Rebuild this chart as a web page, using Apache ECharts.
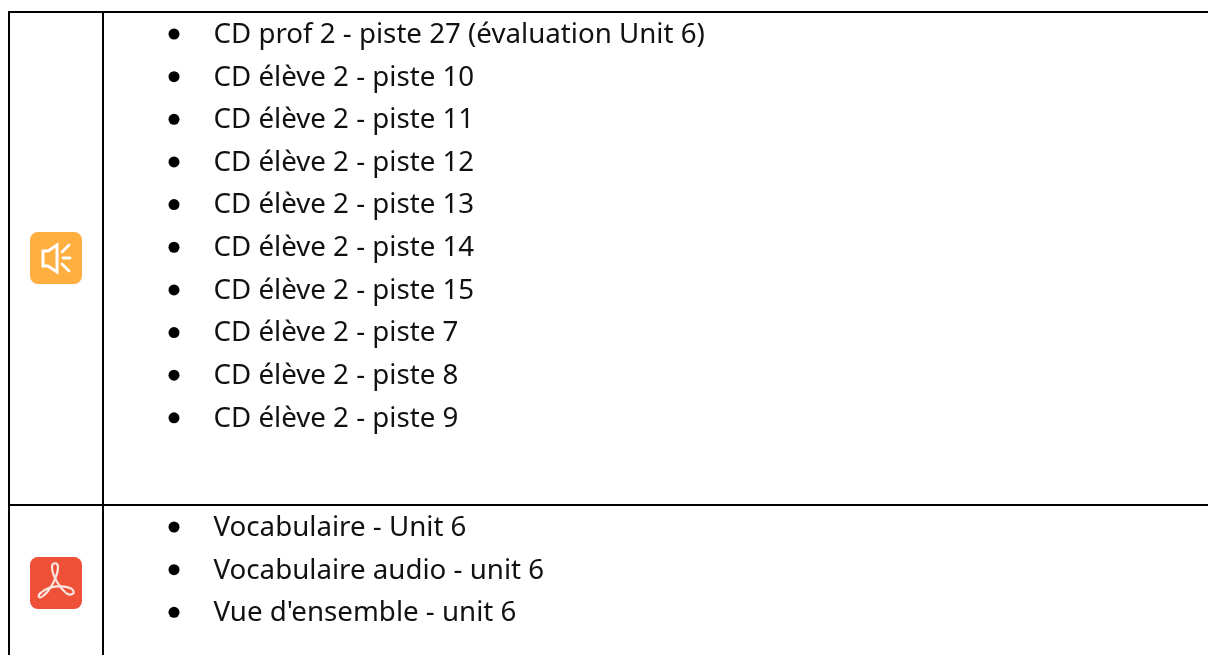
<!DOCTYPE html>
<html>
<head>
<meta charset="utf-8">
<style>html,body{margin:0;padding:0;background:#fff}#c{width:1208px;height:655px}</style>
<script src="https://cdn.jsdelivr.net/npm/echarts@6/dist/echarts.min.js"></script>
</head>
<body>
<div id="c"></div>
<script>
const audioItems = [
  "CD prof 2 - piste 27 (évaluation Unit 6)",
  "CD élève 2 - piste 10",
  "CD élève 2 - piste 11",
  "CD élève 2 - piste 12",
  "CD élève 2 - piste 13",
  "CD élève 2 - piste 14",
  "CD élève 2 - piste 15",
  "CD élève 2 - piste 7",
  "CD élève 2 - piste 8",
  "CD élève 2 - piste 9"
];
const pdfItems = [
  "Vocabulaire - Unit 6",
  "Vocabulaire audio - unit 6",
  "Vue d'ensemble - unit 6"
];
const FONT = "'Noto Sans'";
const chart = echarts.init(document.getElementById('c'), null, {renderer:'canvas'});
const pitch = 42.65;
function yAx(i, items){return {gridIndex:i,type:'category',inverse:true,data:items,show:false};}
function xAx(i){return {gridIndex:i,type:'value',min:0,max:1,show:false};}
function ser(i, items){return {
  type:'scatter',xAxisIndex:i,yAxisIndex:i,symbol:'circle',symbolSize:11,silent:true,
  itemStyle:{color:'#000',opacity:1},
  data:items.map(t=>[0,t]),
  label:{show:true,position:'right',distance:34,offset:[0,1],color:'#111',fontFamily:FONT,fontSize:27.7,
    formatter:p=>p.value[1]}
};}
const line=(x1,y1,x2,y2,c,w)=>({type:'line',shape:{x1,y1,x2,y2},style:{stroke:c||'#000',lineWidth:w||2,lineCap:c?'round':'butt'}});
const bez=(x1,y1,cpx1,cpy1,cpx2,cpy2,x2,y2)=>({type:'bezierCurve',shape:{x1,y1,cpx1,cpy1,cpx2,cpy2,x2,y2},style:{fill:'none',stroke:'#fbe3de',lineWidth:2.2}});
chart.setOption({
  animation:false,
  backgroundColor:'#fff',
  grid:[
    {left:174,right:0,top:34-pitch/2,height:pitch*audioItems.length},
    {left:174,right:0,top:527-pitch/2,height:pitch*pdfItems.length}
  ],
  xAxis:[xAx(0),xAx(1)],
  yAxis:[yAx(0,audioItems),yAx(1,pdfItems)],
  series:[ser(0,audioItems),ser(1,pdfItems)],
  graphic:[
    line(9,12,1208,12),line(9,505,1208,505),
    line(9,11,9,655),line(103,11,103,655),
    {type:'rect',shape:{x:30,y:232,width:52,height:52,r:8},style:{fill:'#FFAE40'}},
    {type:'polygon',shape:{points:[[43,251],[48,251],[57,245],[57,272],[48,266],[43,266]]},style:{fill:'none',stroke:'#fff',lineWidth:3}},
    line(62,252,69,245,'#fff',2.8),line(63,258,70,258,'#fff',2.8),line(62,264,69,271,'#fff',2.8),
    {type:'rect',shape:{x:30,y:557,width:52,height:52,r:8},style:{fill:'#EE5138'}},
    bez(52,567,52,562,58,562,58,567),bez(58,567,58,576,50,591,43,596),bez(43,596,38,600,37,595,42,592),
    bez(42,592,50,585,66,585,72,589),bez(72,589,77,594,70,596,66,593),bez(66,593,60,588,52,576,52,567)
  ]
});
</script>
</body>
</html>
